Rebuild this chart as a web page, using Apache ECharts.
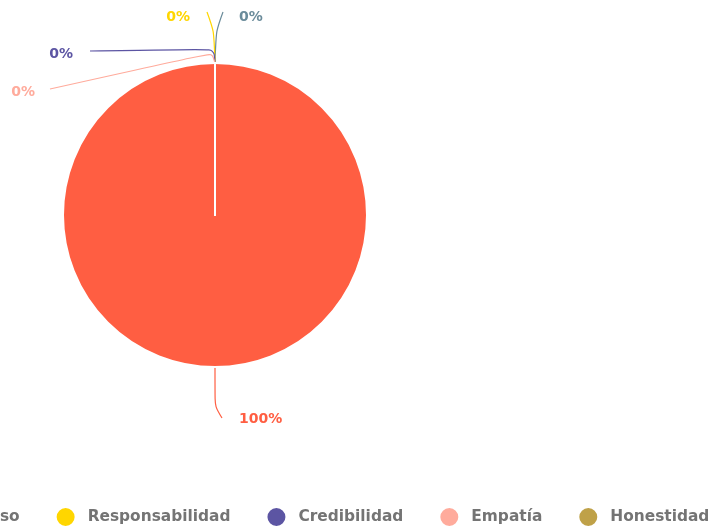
<!DOCTYPE html>
<html><head><meta charset="utf-8">
<script src="https://cdn.jsdelivr.net/npm/echarts@6/dist/echarts.min.js"></script>
<style>html,body{margin:0;padding:0;background:#fff}#c{width:714px;height:528px}</style>
</head><body><div id="c"></div>
<script>
const names = ['Respeto', 'Compromiso', 'Responsabilidad', 'Credibilidad', 'Empatía', 'Honestidad'];
const values = [0, 100, 0, 0, 0, 0];
const colors = ['#6b8c9b', '#ff5e42', '#ffd600', '#5c55a3', '#ffab9c', '#bfa148'];
const legendNames = ['Compromiso', 'Responsabilidad', 'Credibilidad', 'Empatía', 'Honestidad'];

const CX = 215, CY = 215, R = 152;
// label placement offsets (relative to pie centre), per data index
const labelPlace = {
  0: { align: 'left',  tx: 24,   ty: -198, pts: [[0, -R], [1, -R - 32], [8, -R - 51]] },
  1: { align: 'left',  tx: 24,   ty: 204,  pts: [[0, R], [0, R + 40], [7, R + 51]] },
  2: { align: 'right', tx: -25,  ty: -198, pts: [[0, -R], [-1, -R - 32], [-8, -R - 51]] },
  3: { align: 'right', tx: -142, ty: -161, pts: [[0, -R], [-1, -R - 14], [-125, -R - 12]] },
  4: { align: 'right', tx: -180, ty: -123, pts: [[0, -R], [-3, -R - 10], [-165, -R + 26]] }
};

const chart = echarts.init(document.getElementById('c'));
chart.setOption({
  animation: false,
  color: colors,
  legend: {
    data: legendNames,
    orient: 'horizontal',
    left: -121.5, top: 506, width: 1400, padding: 0,
    icon: 'circle', itemWidth: 34, itemHeight: 20, itemGap: 35,
    textStyle: { fontFamily: 'DejaVu Sans', fontWeight: 'bold', fontSize: 15.4, color: '#747474' }
  },
  series: [{
    type: 'pie',
    center: [CX, CY], radius: R,
    startAngle: 90, clockwise: true,
    avoidLabelOverlap: false,
    data: names.map((n, i) => ({
      name: n, value: values[i],
      label: { show: i !== 5 }, labelLine: { show: i !== 5 }
    })),
    itemStyle: { borderColor: '#fff', borderWidth: 2 },
    label: {
      show: true,
      formatter: p => Math.round(p.percent) + '%',
      fontFamily: 'DejaVu Sans', fontWeight: 'bold', fontSize: 14,
      color: 'inherit'
    },
    labelLine: { show: true, length: 15, length2: 10, smooth: 0.3, lineStyle: { width: 1.2 } },
    labelLayout: function (p) {
      const s = labelPlace[p.dataIndex];
      if (!s) return {};
      return {
        x: CX + s.tx, y: CY + s.ty,
        align: s.align, verticalAlign: 'middle',
        labelLinePoints: s.pts.map(q => [CX + q[0], CY + q[1]])
      };
    }
  }]
});
</script></body></html>
